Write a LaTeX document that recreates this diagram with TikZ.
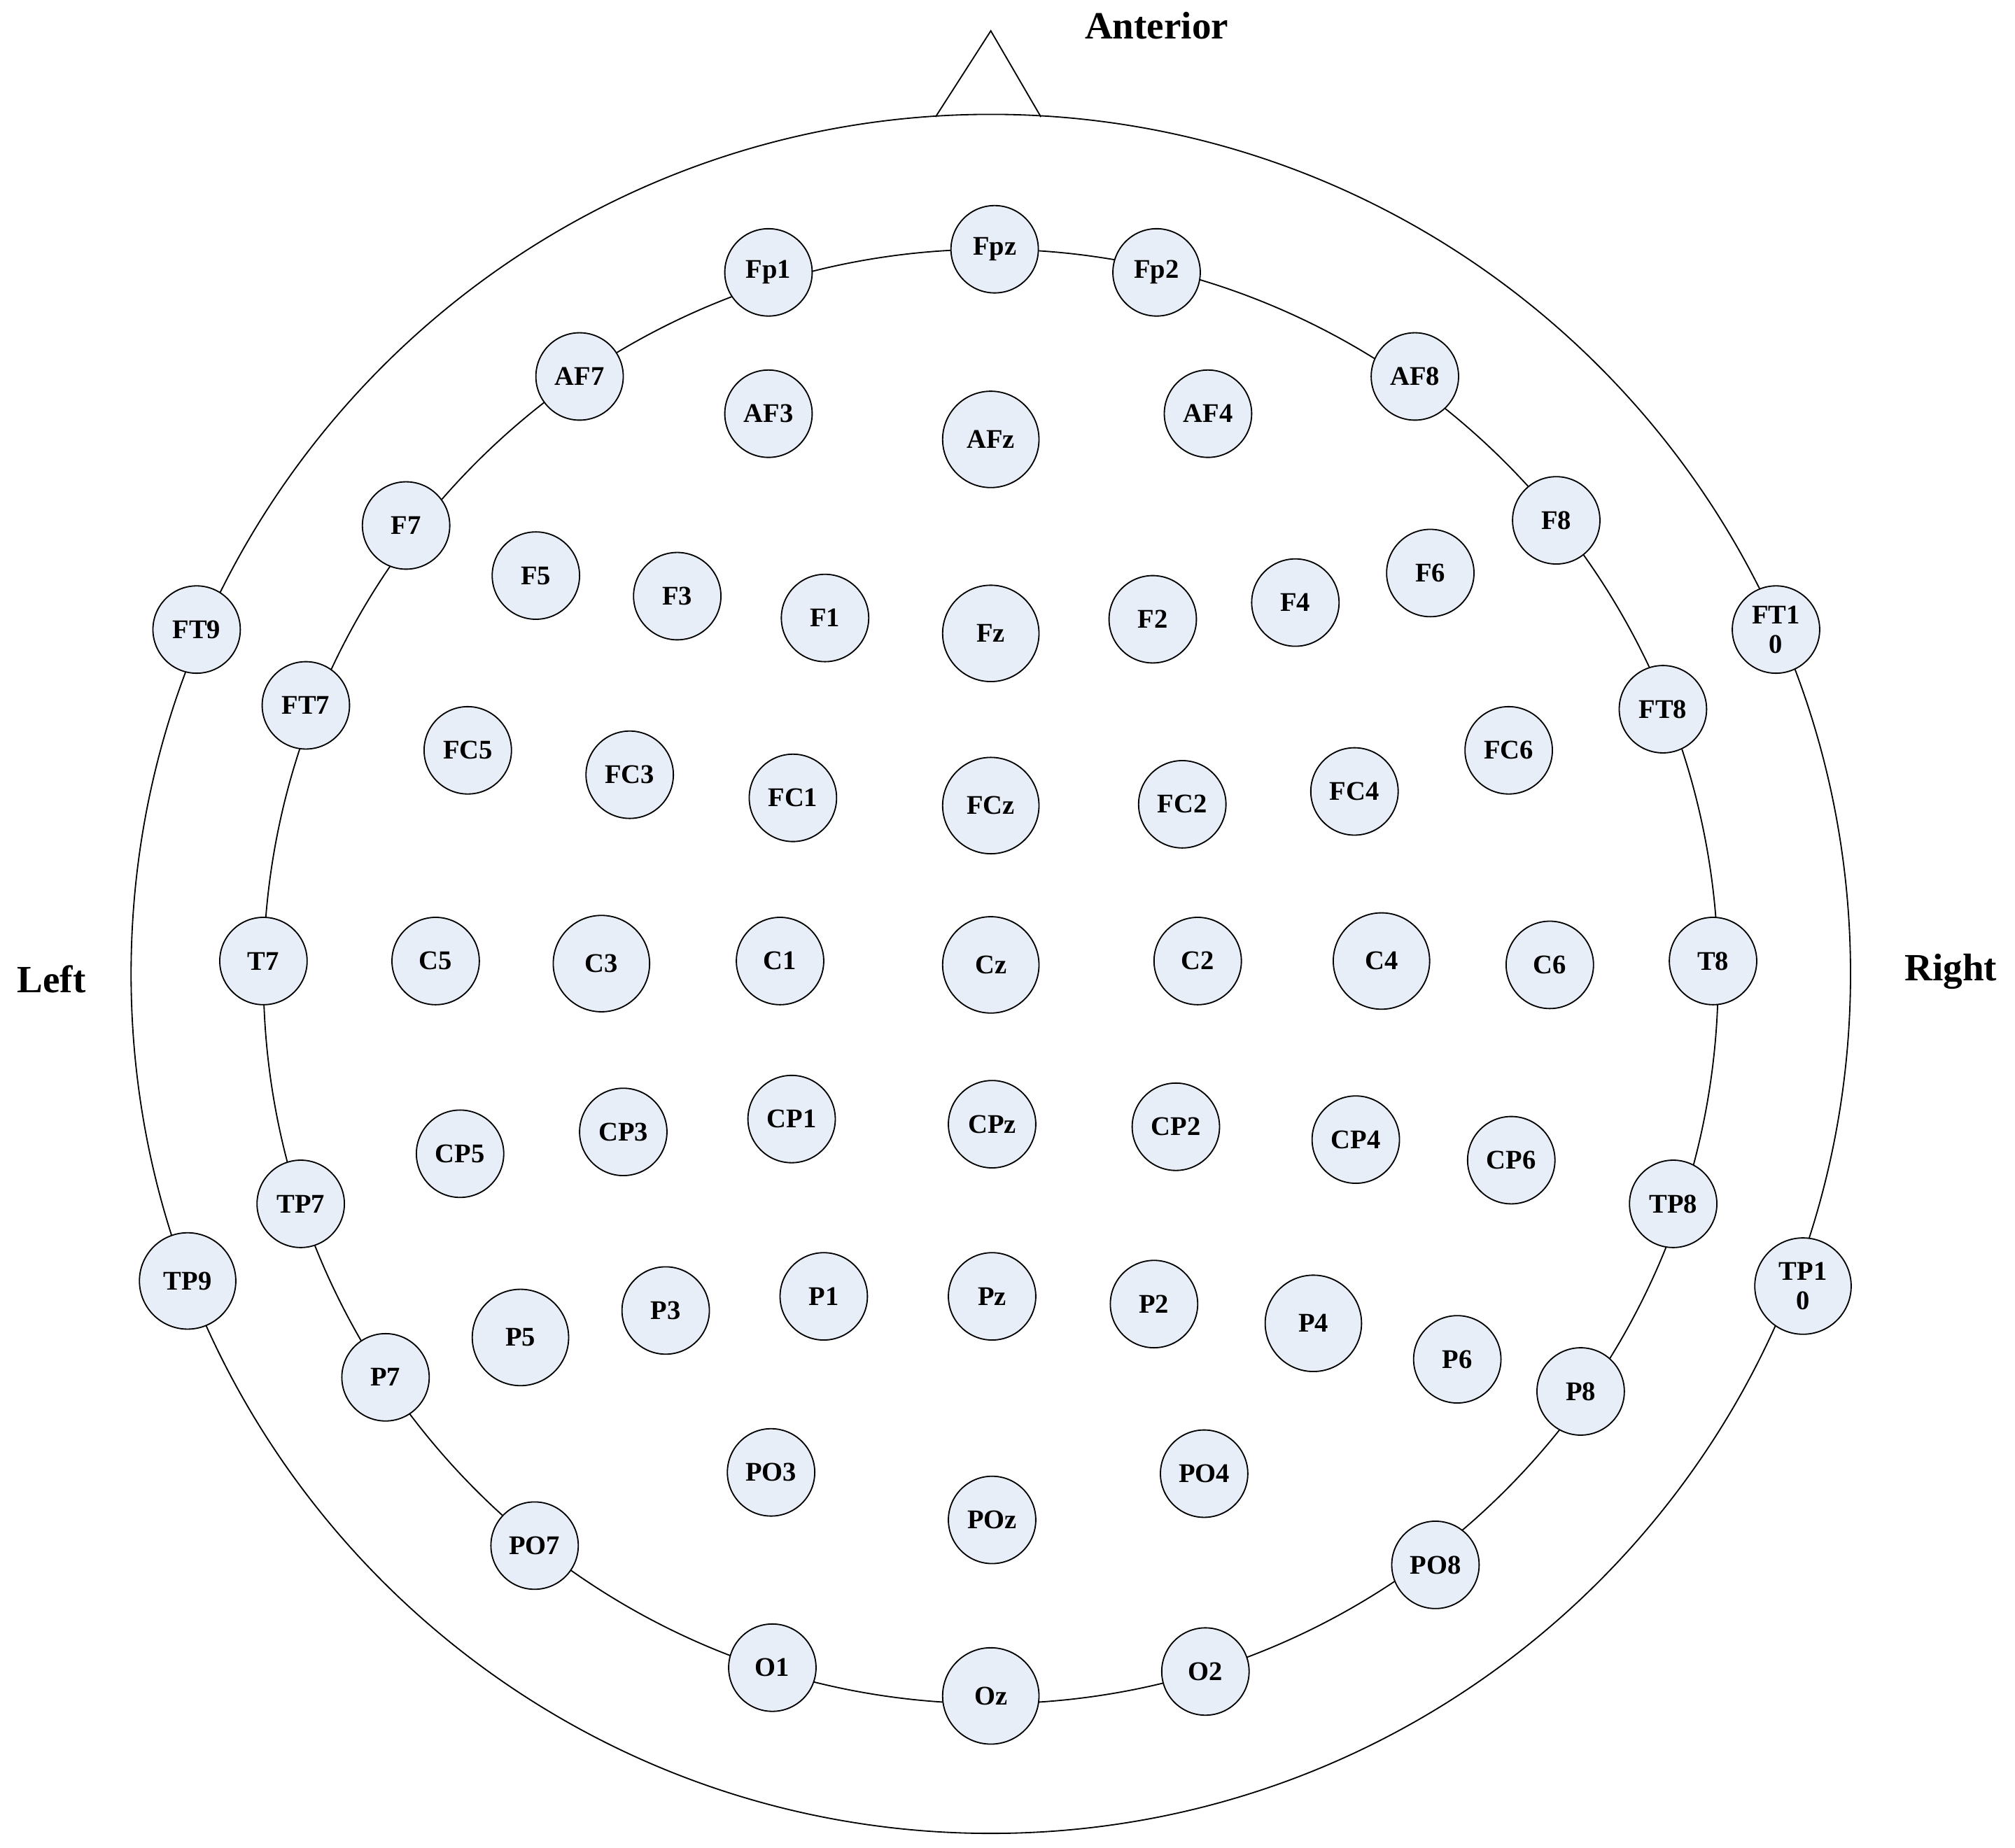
\documentclass[tikz,border=0pt]{standalone}
\usepackage{fontspec}
\setmainfont{Liberation Serif}
\begin{document}
\begin{tikzpicture}[x=1pt,y=-1pt,
  el/.style={circle,draw=black,line width=1pt,fill=elfill,minimum size=68pt,inner sep=0pt,font=\fontsize{21}{23}\selectfont\bfseries,align=center},
  big/.style={minimum size=75pt},
  lbl/.style={font=\fontsize{30}{32}\selectfont\bfseries}]
\definecolor{elfill}{HTML}{E8EEF8}
\useasboundingbox (0,0) rectangle (1568,1438);
\draw[line width=1pt] (771,758) circle (669);
\draw[line width=1pt] (771,760) circle (566);
\draw[line width=1pt] (728,91) -- (771,24) -- (810,91);
\node[lbl] (ant) at (900,20) {Anterior};
\node[lbl] (left) at (40,762) {Left};
\node[lbl] (right) at (1518,756) {Right};
\foreach \n/\x/\y in {Fp1/598/212,Fpz/774/194,Fp2/900/212,AF7/451/293,AF3/598/322,AF4/940/322,AF8/1101/293,
F7/316/409,F5/417/448,F3/527/464,F1/642/481,F2/897/482,F4/1008/469,F6/1113/446,F8/1211/405,
FT9/153/490,FT7/238/549,FC5/364/584,FC3/490/603,FC1/617/621,FC2/920/626,FC4/1054/616,FC6/1174/584,FT8/1294/552,
T7/205/748,C5/339/748,C1/607/748,C2/932/748,C6/1206/751,T8/1333/748,
CP5/358/898,CP3/485/881,CP1/616/871,CPz/772/875,CP2/915/877,CP4/1055/887,CP6/1176/903,TP7/234/937,TP8/1302/937,
P7/300/1072,P3/518/1020,P1/641/1009,Pz/772/1009,P2/898/1015,P6/1134/1058,P8/1230/1083,
PO3/600/1146,POz/772/1183,PO4/937/1147,PO7/416/1203,PO8/1117/1218,O1/601/1298,O2/938/1301}
  \node[el] (\n) at (\x,\y) {\n};
\foreach \n/\x/\y in {AFz/771/342,Fz/771/493,FCz/771/627,C3/468/750,Cz/771/751,C4/1075/748,TP9/146/997,P5/405/1041,P4/1022/1030,Oz/771/1320}
  \node[el,big] (\n) at (\x,\y) {\n};
\node[el] (FT10) at (1382,490) {FT1\\0};
\node[el,big] (TP10) at (1403,1001) {TP1\\0};
\end{tikzpicture}
\end{document}
